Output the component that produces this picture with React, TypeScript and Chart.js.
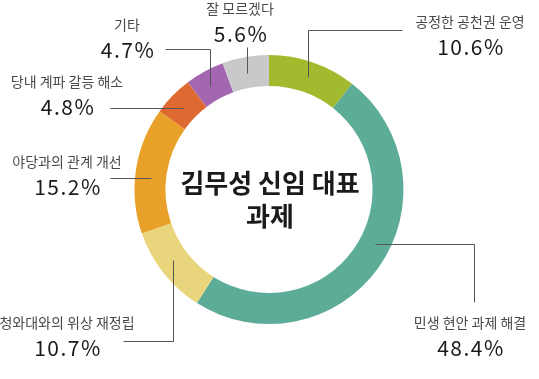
import React, { useEffect, useRef } from "react";
import { Chart, registerables } from "chart.js";

Chart.register(...registerables);

const categories = [
  "공정한 공천권 운영",
  "민생 현안 과제 해결",
  "청와대와의 위상 재정립",
  "야당과의 관계 개선",
  "당내 계파 갈등 해소",
  "기타",
  "잘 모르겠다",
];
const values = [10.6, 48.4, 10.7, 15.2, 4.8, 4.7, 5.6];
const colors = ["#a2ba2e", "#5cac98", "#e9d57c", "#e9a12a", "#df6a31", "#a466b1", "#c9c9cc"];
const centerTitle = ["김무성 신임 대표", "과제"];

// Layout for labels / leader lines (positions only)
type Leader = {
  t: number; // fraction along arc for anchor
  path: Array<["v" | "h", number]>;
  tx: number;
  ty: number;
};
const leaders: Leader[] = [
  { t: 0.5, path: [["v", 30], ["h", 402]], tx: 470, ty: 22 },
  { t: 0.455, path: [["h", 474], ["v", 302]], tx: 470, ty: 323 },
  { t: 0.55, path: [["v", 341], ["h", 123]], tx: 67, ty: 323 },
  { t: 0.45, path: [["h", 110]], tx: 67, ty: 162 },
  { t: 0.45, path: [["h", 110]], tx: 67, ty: 82 },
  { t: 0.45, path: [["v", 49], ["h", 165]], tx: 127, ty: 25 },
  { t: 0.47, path: [["v", 47]], tx: 240, ty: 9 },
];

const FONT = '"Noto Sans CJK KR", "Noto Sans", sans-serif';

const labelPlugin = {
  id: "leaderLabels",
  afterDraw(chart: any) {
    const ctx = chart.ctx;
    const meta = chart.getDatasetMeta(0);
    ctx.save();
    meta.data.forEach((arc: any, i: number) => {
      const p = arc.getProps(["x", "y", "startAngle", "endAngle", "innerRadius", "outerRadius"], true);
      const L = leaders[i];
      const ang = p.startAngle + (p.endAngle - p.startAngle) * L.t;
      const r = (p.innerRadius + p.outerRadius) / 2;
      let x = p.x + Math.cos(ang) * r;
      let y = p.y + Math.sin(ang) * r;
      ctx.beginPath();
      ctx.strokeStyle = "#555";
      ctx.lineWidth = 1;
      ctx.moveTo(Math.round(x) + 0.5, Math.round(y) + 0.5);
      L.path.forEach(([dir, v]) => {
        if (dir === "v") y = v;
        else x = v;
        ctx.lineTo(Math.round(x) + 0.5, Math.round(y) + 0.5);
      });
      ctx.stroke();

      ctx.textAlign = "center";
      ctx.textBaseline = "middle";
      ctx.fillStyle = "#4a4a4a";
      ctx.letterSpacing = "0px";
      ctx.font = `14px ${FONT}`;
      ctx.fillText(categories[i], L.tx, L.ty);
      ctx.fillStyle = "#1a1a1a";
      ctx.font = `21px ${FONT}`;
      ctx.letterSpacing = "1.5px";
      ctx.fillText(values[i].toFixed(1) + "%", L.tx + 1, L.ty + 25);
    });

    const cx = meta.data[0].x;
    ctx.letterSpacing = "0px";
    ctx.fillStyle = "#1a1a1a";
    ctx.font = `bold 26px ${FONT}`;
    ctx.textAlign = "center";
    ctx.textBaseline = "middle";
    ctx.fillText(centerTitle[0], cx + 1, 183);
    ctx.fillText(centerTitle[1], cx + 1, 216);
    ctx.restore();
  },
};

export default function App() {
  const ref = useRef<HTMLCanvasElement>(null);
  useEffect(() => {
    document.body.style.margin = "0";
    const chart = new Chart(ref.current!, {
      type: "doughnut",
      data: {
        labels: categories,
        datasets: [
          {
            data: values,
            backgroundColor: colors,
            borderWidth: 0,
          },
        ],
      },
      options: {
        animation: false,
        responsive: false,
        cutout: "77%",
        layout: { padding: { left: 0, right: 1, top: 55, bottom: 55 } },
        plugins: { legend: { display: false }, tooltip: { enabled: false } },
      },
      plugins: [labelPlugin],
    });
    return () => chart.destroy();
  }, []);
  return (
    <div style={{ width: 539, height: 379, background: "#fff" }}>
      <canvas ref={ref} width={539} height={379} />
    </div>
  );
}
